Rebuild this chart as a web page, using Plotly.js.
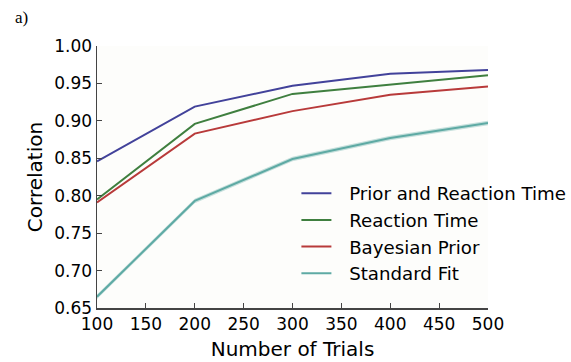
<!DOCTYPE html>
<html>
<head>
<meta charset="utf-8">
<script src="https://cdn.plot.ly/plotly-3.0.1.min.js"></script>
<style>html,body{margin:0;padding:0;background:#fff;}#chart{width:571px;height:362px;}</style>
</head>
<body>
<div id="chart"></div>
<script>
const trials = [100, 200, 300, 400, 500];
const priorAndRT = [0.846, 0.919, 0.947, 0.963, 0.968];
const reactionTime = [0.795, 0.896, 0.936, 0.949, 0.961];
const bayesianPrior = [0.791, 0.883, 0.913, 0.935, 0.946];
const standardFit = [0.665, 0.793, 0.849, 0.877, 0.897];
const standardFitErr = [0.003, 0.003, 0.003, 0.003, 0.003];
const seriesNames = ["Prior and Reaction Time", "Reaction Time", "Bayesian Prior", "Standard Fit"];
const colors = ["#42429a", "#3f7f3f", "#b83a3a", "#5eaaa4"];

const upper = standardFit.map((v, i) => v + standardFitErr[i]);
const lower = standardFit.map((v, i) => v - standardFitErr[i]);

const traces = [
  {x: trials, y: upper, mode: 'lines', line: {width: 0}, showlegend: false, hoverinfo: 'skip', legendgroup: 'band'},
  {x: trials, y: lower, mode: 'lines', line: {width: 0}, fill: 'tonexty', fillcolor: 'rgba(94,170,164,0.35)', showlegend: false, hoverinfo: 'skip', legendgroup: 'band'},
];
[priorAndRT, reactionTime, bayesianPrior, standardFit].forEach((ys, i) => {
  traces.push({x: trials, y: ys, mode: 'lines', name: '\u2002\u2009' + seriesNames[i], legendgroup: 'g' + i, line: {color: colors[i], width: 2}});
});

const layout = {
  width: 571, height: 362,
  margin: {l: 97, r: 83, t: 46, b: 54, autoexpand: false},
  paper_bgcolor: '#ffffff',
  plot_bgcolor: '#fdfdfb',
  font: {family: 'DejaVu Sans', size: 17, color: '#000'},
  xaxis: {
    range: [100, 500], tickvals: [100,150,200,250,300,350,400,450,500],
    showgrid: false, zeroline: false, showline: true, linecolor: '#444', linewidth: 1.5,
    ticks: 'inside', ticklen: 5, tickcolor: '#444',
    tickfont: {size: 17},
    title: {text: 'Number of Trials', font: {size: 20}, standoff: 9}
  },
  yaxis: {
    range: [0.65, 1.0], tickvals: [0.65,0.70,0.75,0.80,0.85,0.90,0.95,1.00], tickformat: '.2f',
    showgrid: false, zeroline: false, showline: true, linecolor: '#444', linewidth: 1.5,
    ticks: 'inside', ticklen: 5, tickcolor: '#444',
    tickfont: {size: 17},
    title: {text: 'Correlation', font: {size: 20}, standoff: 6}
  },
  legend: {
    x: 0.51, y: 0.508, xanchor: 'left', yanchor: 'top',
    bgcolor: 'rgba(0,0,0,0)', borderwidth: 0,
    font: {size: 18.2}, traceorder: 'grouped', tracegroupgap: 0, itemwidth: 30
  },
  annotations: [{
    text: 'a)', xref: 'paper', yref: 'paper', x: -0.215, y: 1.107, xanchor: 'left', yanchor: 'middle',
    showarrow: false, font: {family: 'Liberation Serif', size: 17, color: '#000'}
  }]
};
Plotly.newPlot('chart', traces, layout, {displayModeBar: false, staticPlot: true});
</script>
</body>
</html>
